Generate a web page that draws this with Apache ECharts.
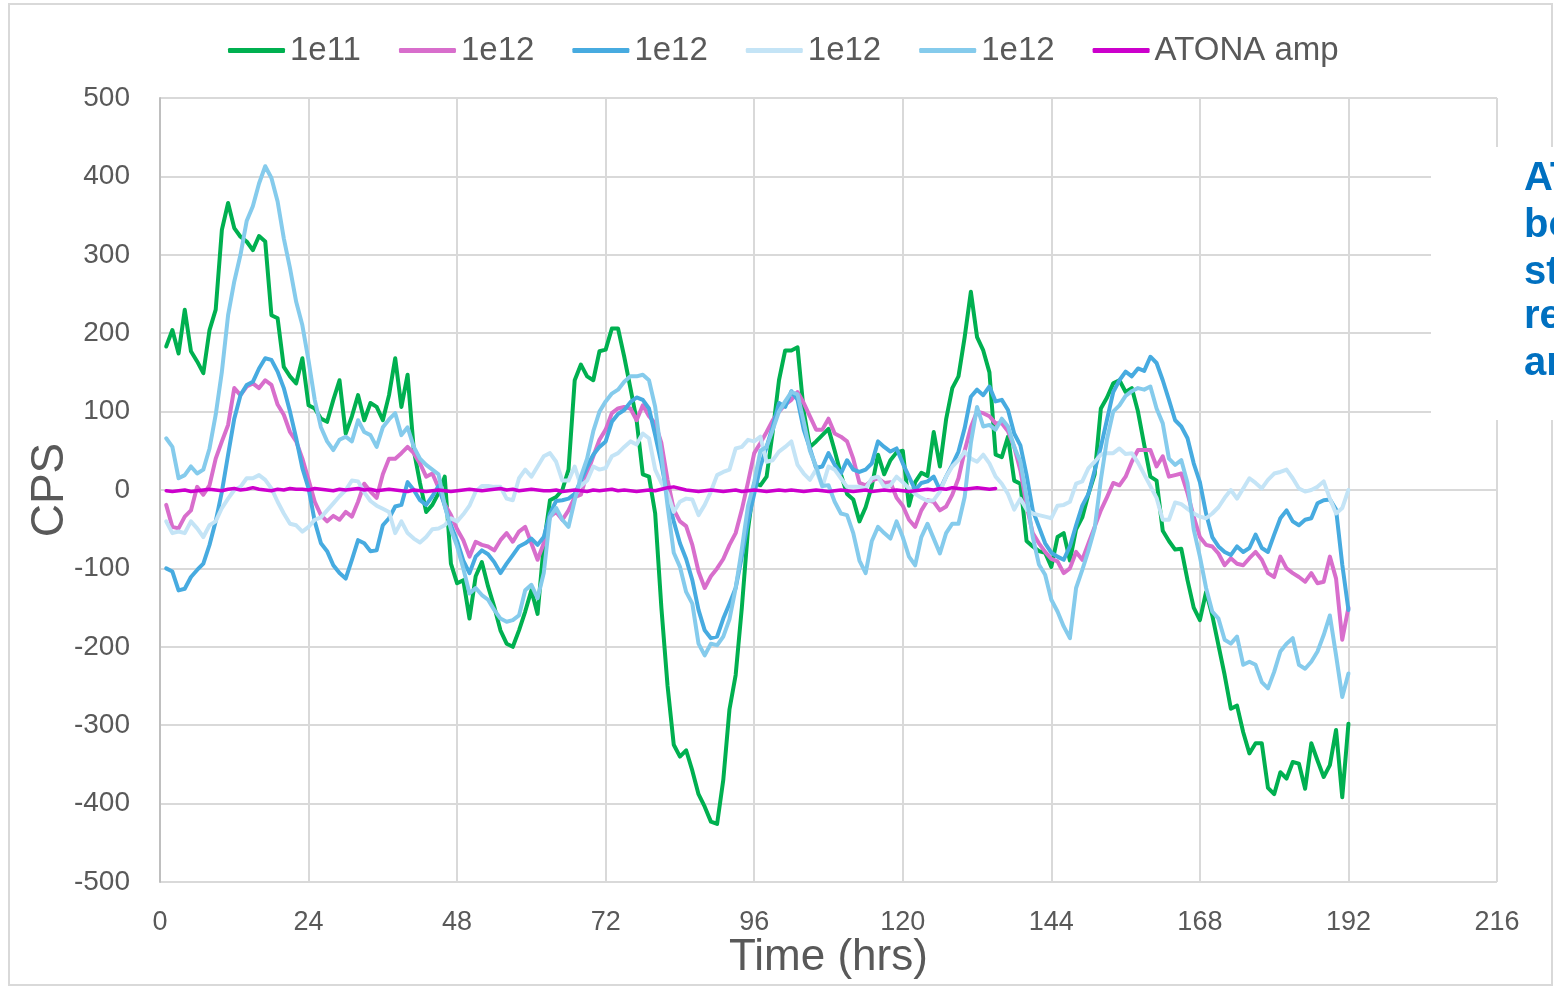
<!DOCTYPE html>
<html>
<head>
<meta charset="utf-8">
<script src="https://cdn.jsdelivr.net/npm/echarts@6/dist/echarts.min.js"></script>
<style>
html,body{margin:0;padding:0;background:#fff;}
#chart{width:1554px;height:987px;}
</style>
</head>
<body>
<div id="chart"></div>
<script>
// ---- data ----
const hours = [1,2,3,4,5,6,7,8,9,10,11,12,13,14,15,16,17,18,19,20,21,22,23,24,
25,26,27,28,29,30,31,32,33,34,35,36,37,38,39,40,41,42,43,44,45,46,47,48,
49,50,51,52,53,54,55,56,57,58,59,60,61,62,63,64,65,66,67,68,69,70,71,72,
73,74,75,76,77,78,79,80,81,82,83,84,85,86,87,88,89,90,91,92,93,94,95,96,
97,98,99,100,101,102,103,104,105,106,107,108,109,110,111,112,113,114,115,116,117,118,119,120,
121,122,123,124,125,126,127,128,129,130,131,132,133,134,135,136,137,138,139,140,141,142,143,144,
145,146,147,148,149,150,151,152,153,154,155,156,157,158,159,160,161,162,163,164,165,166,167,168,
169,170,171,172,173,174,175,176,177,178,179,180,181,182,183,184,185,186,187,188,189,190,191,192];

const seriesLabels = ['1e11','1e12','1e12','1e12','1e12','ATONA amp'];

const green1e11 = [183,204,174,230,177,164,149,204,230,332,366,334,
323,317,306,324,317,223,219,157,145,136,168,108,
104,91,87,115,140,72,94,121,89,111,106,89,
121,168,106,147,51,9,-28,-19,-4,17,-94,-119,
-115,-164,-110,-92,-123,-149,-179,-196,-200,-179,-155,-128,
-158,-70,-13,-9,0,26,140,160,145,140,177,179,
206,206,170,130,89,20,17,-30,-150,-250,-325,-340,
-332,-358,-388,-404,-423,-426,-370,-280,-236,-150,-50,9,
6,17,75,140,178,178,182,100,55,62,70,78,
50,20,-5,-12,-40,-22,5,45,20,38,48,50,
-20,10,22,18,74,30,90,130,145,195,253,195,
178,150,45,42,68,12,8,-65,-72,-78,-80,-98,
-60,-55,-90,-50,-35,-5,20,104,118,136,140,125,
130,100,58,17,12,-52,-65,-76,-75,-115,-150,-166,
-130,-160,-198,-236,-279,-275,-309,-336,-323,-323,-380,-388,
-360,-368,-347,-349,-381,-323,-345,-366,-351,-306,-392,-298];

const pink1e12 = [-19,-47,-49,-34,-26,4,-6,6,40,62,83,130,
121,132,136,130,140,134,109,96,74,62,40,13,
-15,-32,-40,-33,-38,-28,-34,-15,8,-2,-10,20,
40,40,47,55,47,34,17,21,3,-18,-32,-50,
-64,-85,-66,-70,-72,-77,-64,-55,-66,-53,-47,-68,
-89,-68,-34,-28,-38,-26,-9,-6,21,43,64,77,
98,104,106,104,89,108,94,85,60,13,-25,-40,
-46,-70,-104,-125,-110,-100,-88,-70,-55,-25,10,47,
60,74,89,100,109,115,125,111,94,77,77,91,
72,68,62,40,9,6,12,15,9,10,-10,-20,
-38,-47,-26,-13,-15,-26,-21,-6,15,50,80,100,
98,94,85,85,75,55,25,-20,-55,-68,-79,-88,
-91,-106,-100,-79,-89,-68,-47,-26,-9,9,6,17,
36,51,51,51,30,43,17,19,21,-4,-34,-60,
-70,-72,-81,-96,-87,-94,-96,-87,-79,-89,-106,-111,
-85,-100,-106,-111,-117,-106,-119,-117,-85,-113,-191,-150];

const blue1e12 = [-100,-104,-128,-126,-111,-102,-94,-70,-40,-2,45,91,
121,134,138,155,168,166,151,130,100,66,28,2,
-40,-68,-78,-96,-106,-113,-89,-64,-68,-78,-77,-45,
-36,-21,-19,10,0,-13,-19,-8,5,-20,-45,-65,
-90,-106,-85,-77,-82,-92,-106,-94,-83,-72,-68,-62,
-70,-60,-30,-14,-13,-11,-5,12,30,45,55,62,
87,97,102,112,118,115,104,70,34,-9,-40,-68,
-88,-115,-153,-179,-189,-187,-164,-145,-125,-85,-40,-5,
30,55,81,111,106,126,115,77,53,28,30,47,
32,21,38,26,23,26,34,62,55,49,53,34,
17,0,9,11,17,0,17,32,49,79,119,128,
121,132,113,115,102,72,57,19,-26,-47,-68,-80,
-85,-89,-72,-45,-20,-5,25,55,90,125,140,151,
145,155,152,170,162,140,115,89,81,66,34,10,
-30,-60,-72,-79,-83,-72,-79,-74,-57,-74,-79,-57,
-36,-26,-40,-45,-38,-36,-17,-13,-12,-25,-95,-153];

const paleBlue1e12 = [-40,-55,-53,-55,-40,-49,-60,-45,-40,-23,-11,0,
4,15,15,19,13,2,-15,-30,-43,-45,-53,-47,
-38,-35,-26,-17,-8,0,12,11,-3,-14,-20,-24,
-28,-55,-40,-55,-62,-67,-60,-50,-49,-45,-36,-40,
-31,-20,-2,5,5,4,4,-11,-13,15,26,17,
30,43,47,36,12,12,30,5,12,30,26,28,
43,47,55,62,58,72,66,26,9,-4,-28,-15,
-11,-12,-32,-19,-2,19,23,26,53,55,64,62,
68,36,38,49,55,62,32,21,13,26,4,30,
26,15,4,4,4,2,15,17,4,6,17,10,
2,-5,-10,-14,-13,-2,17,30,38,49,40,36,
45,34,17,8,-5,-25,-11,-25,-30,-32,-34,-36,
-20,-19,-15,8,11,28,36,45,47,47,53,46,
47,35,20,5,-10,-38,-38,-16,-18,-24,-30,-34,
-36,-30,-22,-10,0,-11,2,15,9,2,13,21,
23,26,15,2,-2,0,4,11,-11,-30,-23,0];

const lightBlue1e12 = [66,55,15,19,30,21,26,53,96,151,223,266,
300,343,362,391,413,398,368,321,283,240,210,165,
115,80,62,51,64,68,62,89,74,70,55,80,
90,98,70,80,55,40,32,26,20,-20,-50,-72,
-100,-132,-125,-134,-140,-153,-164,-168,-166,-160,-128,-121,
-138,-106,-35,-23,-38,-47,-13,17,40,75,100,113,
123,128,138,145,145,147,140,106,45,-20,-80,-98,
-130,-145,-196,-211,-196,-198,-187,-165,-125,-75,-20,10,
50,55,77,100,113,125,122,87,50,30,5,6,
-15,-30,-32,-55,-90,-106,-65,-47,-55,-62,-40,-60,
-85,-96,-60,-43,-62,-81,-55,-43,-43,-9,60,106,
81,83,77,91,81,55,36,-9,-60,-95,-108,-140,
-155,-174,-189,-125,-102,-77,-49,13,65,100,108,120,
126,130,128,132,104,85,40,32,38,9,-50,-85,
-125,-155,-164,-191,-196,-187,-223,-219,-223,-245,-253,-232,
-206,-196,-189,-223,-228,-219,-206,-185,-160,-211,-264,-234];

const atonaAmp = [-1,-2,-1,0,-2,-1,0,1,0,-1,1,2,0,1,3,
1,0,-1,1,0,2,1,1,0,2,1,0,-1,1,0,
1,2,0,1,-1,0,1,0,-1,-2,0,-1,-2,-1,0,
-1,-2,-1,0,1,0,-1,0,1,2,0,1,-1,0,1,
0,-1,-1,0,-2,-1,0,-1,-2,0,-1,0,1,-1,0,
-1,-2,-1,0,-1,1,3,4,2,0,-1,-2,-1,0,-1,
-2,-1,0,-2,-1,0,-1,-2,-1,0,-1,0,-1,-2,-1,
0,-1,-2,-1,0,-1,-2,-1,0,-2,-1,0,-1,0,-1,
-2,-1,0,1,0,2,1,3,2,1,2,3,2,1,2];

const xTicks = {min: 0, max: 216, interval: 24};
const yTicks = {min: -500, max: 500, interval: 100};
const noteLines = ['AT', 'bo', 'st', 're', 'an'];

// ---- chart ----
const FONT = '"Liberation Sans", Arial, sans-serif';
const TXT = '#595959';
const colors = ['#00B050', '#D86ECC', '#47ABE0', '#C4E4F6', '#85CBEC', '#CC00CC'];
const valueSets = [green1e11, pink1e12, blue1e12, paleBlue1e12, lightBlue1e12, atonaAmp];

function pairs(vals) { return vals.map((v, i) => [hours[i], v]); }

const series = valueSets.map((vals, k) => ({
  type: 'line',
  name: 's' + k,
  data: pairs(vals),
  showSymbol: false,
  symbol: 'none',
  smooth: false,
  lineStyle: {color: colors[k], width: k === 5 ? 3.5 : 4, join: 'round', cap: 'round'},
  itemStyle: {color: colors[k]},
  z: 2 + k,
  animation: false
}));

const noteFont = 'bold 40px "Liberation Sans Narrow", "Liberation Sans", sans-serif';
const noteY = [179, 226, 273, 317, 364];
const noteTexts = noteLines.map((t, i) => ({
  type: 'text', z: 110, silent: true, x: 1524, y: noteY[i],
  style: {text: t, font: noteFont, fill: '#0070C0', verticalAlign: 'middle', align: 'left'}
}));

const chart = echarts.init(document.getElementById('chart'), null, {renderer: 'canvas'});
chart.setOption({
  animation: false,
  backgroundColor: '#ffffff',
  textStyle: {fontFamily: FONT},
  grid: {left: 160, right: 57, top: 98, bottom: 105, containLabel: false},
  legend: {
    left: 223, top: 29,
    itemWidth: 57, itemHeight: 5, itemGap: 38,
    icon: 'roundRect',
    data: series.map(s => s.name),
    formatter: name => seriesLabels[Number(name.slice(1))],
    textStyle: {fontSize: 33, color: TXT, fontFamily: FONT}
  },
  xAxis: {
    type: 'value',
    min: xTicks.min, max: xTicks.max, interval: xTicks.interval,
    name: 'Time (hrs)', nameLocation: 'middle', nameGap: 54,
    nameMoveOverlap: false,
    nameTextStyle: {fontSize: 44, color: TXT, fontFamily: FONT},
    axisLine: {show: false, onZero: false},
    axisTick: {show: false},
    axisLabel: {fontSize: 27, color: TXT, margin: 27, fontFamily: FONT},
    splitLine: {show: true, lineStyle: {color: '#D9D9D9', width: 2}}
  },
  yAxis: {
    type: 'value',
    min: yTicks.min, max: yTicks.max, interval: yTicks.interval,
    name: 'CPS', nameLocation: 'middle', nameGap: 87,
    nameMoveOverlap: false,
    nameTextStyle: {fontSize: 46, color: TXT, fontFamily: FONT},
    axisLine: {show: true, lineStyle: {color: '#BFBFBF', width: 2}},
    axisTick: {show: false},
    axisLabel: {fontSize: 28, color: TXT, margin: 30, fontFamily: FONT},
    splitLine: {show: true, lineStyle: {color: '#D9D9D9', width: 2}}
  },
  graphic: [
    {type: 'rect', z: -10, silent: true,
     shape: {x: 9, y: 4, width: 1543, height: 981},
     style: {fill: 'none', stroke: '#D9D9D9', lineWidth: 2}},
    {type: 'rect', z: 100, silent: true,
     shape: {x: 1431, y: 147, width: 140, height: 273},
     style: {fill: '#ffffff'}}
  ].concat(noteTexts),
  series: series
});
</script>
</body>
</html>
